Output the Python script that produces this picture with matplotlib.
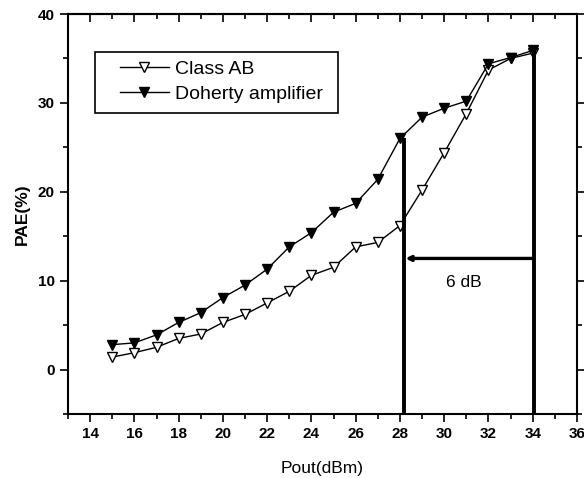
import matplotlib
matplotlib.use("Agg")
import matplotlib.pyplot as plt
from matplotlib.ticker import MultipleLocator
from matplotlib.patches import Rectangle

plt.rcParams['font.family'] = ['Liberation Sans', 'DejaVu Sans']

pout = [15, 16, 17, 18, 19, 20, 21, 22, 23, 24, 25, 26, 27, 28, 29, 30, 31, 32, 33, 34]
class_ab = [1.4, 1.9, 2.5, 3.5, 4.0, 5.3, 6.2, 7.5, 8.8, 10.6, 11.5, 13.8, 14.3, 16.2,
            20.2, 24.4, 28.8, 33.7, 35.0, 35.6]
doherty = [2.8, 3.0, 3.9, 5.3, 6.4, 8.1, 9.5, 11.3, 13.8, 15.4, 17.7, 18.7, 21.4, 26.0,
           28.4, 29.4, 30.2, 34.4, 35.1, 35.9]

x_left_mark = 28.2
x_right_mark = 34.05
y_arrow = 12.5
label_6db = "6 dB"

fig = plt.figure(figsize=(5.84, 4.78), dpi=100)
ax = fig.add_axes([0.1164, 0.1339, 0.8716, 0.8368])

ax.plot(pout, class_ab, color='black', lw=1.0, marker='v', markersize=6.5,
        markerfacecolor='white', markeredgecolor='black', markeredgewidth=1.0,
        label='Class AB')
ax.plot(pout, doherty, color='black', lw=1.0, marker='v', markersize=6.5,
        markerfacecolor='black', markeredgecolor='black',
        label='Doherty amplifier')

ax.vlines([x_left_mark], -5, 26.0, colors='black', lw=2.8)
ax.vlines([x_right_mark], -5, 35.9, colors='black', lw=2.8)
ax.annotate('', xy=(x_left_mark + 0.05, y_arrow), xytext=(x_right_mark, y_arrow),
            arrowprops=dict(arrowstyle='-|>', color='black', lw=2.4,
                            mutation_scale=7, shrinkA=0, shrinkB=0))
ax.text(30.9, 9.8, label_6db, fontsize=12.5, ha='center', va='center')

ax.set_xlim(13, 36)
ax.set_ylim(-5, 40)
ax.set_xticks(range(14, 37, 2))
ax.set_yticks([0, 10, 20, 30, 40])
ax.xaxis.set_minor_locator(MultipleLocator(1))
ax.yaxis.set_minor_locator(MultipleLocator(5))

ax.tick_params(which='both', direction='out', top=False, right=True, width=1.2)
ax.tick_params(which='major', length=6, labelsize=11)
ax.tick_params(which='minor', length=3.5)
for lab in ax.get_xticklabels() + ax.get_yticklabels():
    lab.set_fontweight('bold')
for sp in ax.spines.values():
    sp.set_linewidth(1.5)

top = ax.secondary_xaxis('top')
top.set_xticks(range(14, 37, 2))
top.xaxis.set_minor_locator(MultipleLocator(1))
top.tick_params(which='both', direction='in', labeltop=False, width=1.2)
top.tick_params(which='major', length=6)
top.tick_params(which='minor', length=3.5)
top.spines['top'].set_linewidth(1.5)

ax.set_xlabel('Pout(dBm)', fontsize=12.5, labelpad=14)
ax.set_ylabel('PAE(%)', fontsize=12.5, fontweight='bold', labelpad=6)

# legend box
ax.add_patch(Rectangle((0.053, 0.7525), 0.477, 0.1525, transform=ax.transAxes,
                       facecolor='white', edgecolor='black', lw=1.2, zorder=4))
leg = ax.legend(loc='upper left', bbox_to_anchor=(0.102, 0.885), fontsize=14,
                frameon=False, handlelength=2.5, handletextpad=0.32,
                borderpad=0, borderaxespad=0, labelspacing=0.4)
leg.set_zorder(5)

fig.savefig('out.png', dpi=100)
